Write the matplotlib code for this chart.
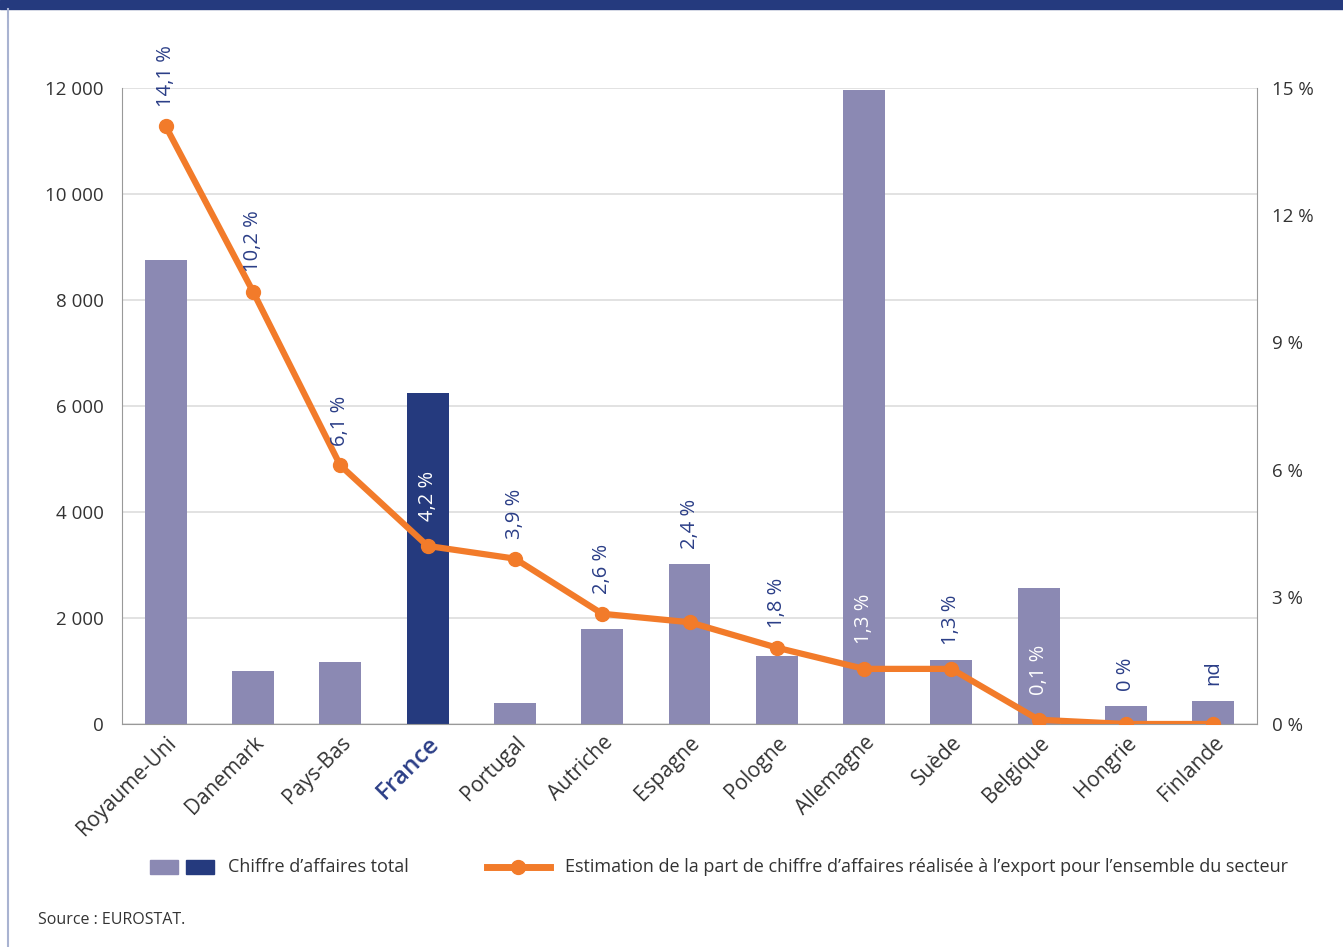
import numpy as np
import matplotlib.pyplot as plt
from matplotlib.patches import Rectangle
from matplotlib.lines import Line2D

plt.rcParams['font.family'] = ['Open Sans', 'DejaVu Sans']

# data
pays = ['Royaume-Uni', 'Danemark', 'Pays-Bas', 'France', 'Portugal', 'Autriche', 'Espagne',
        'Pologne', 'Allemagne', 'Suède', 'Belgique', 'Hongrie', 'Finlande']
chiffre_affaires = [8750, 1000, 1170, 6250, 400, 1800, 3020, 1290, 11960, 1210, 2570, 340, 440]
part_export = [14.1, 10.2, 6.1, 4.2, 3.9, 2.6, 2.4, 1.8, 1.3, 1.3, 0.1, 0.0, 0.0]
etiquettes = ['14,1 %', '10,2 %', '6,1 %', '4,2 %', '3,9 %', '2,6 %', '2,4 %', '1,8 %',
              '1,3 %', '1,3 %', '0,1 %', '0 %', 'nd']
dans_barre = [False, False, False, True, False, False, False, False, True, False, True, False, False]

clair = '#8B89B3'
fonce = '#253A7E'
orange = '#F27B2A'
texte_bleu = '#2B3E87'
gris = '#333333'

fig = plt.figure(figsize=(13.43, 9.47), dpi=100)
ax = fig.add_axes([122/1343, 1-724/947, 1135/1343, 636/947])
ax2 = ax.twinx()

x = np.arange(len(pays))
couleurs = [fonce if p == 'France' else clair for p in pays]
ax.bar(x, chiffre_affaires, width=0.48, color=couleurs, zorder=2)
ax.set_xlim(-0.5, len(pays) - 0.5)
ax.set_ylim(0, 12000)
ax.set_yticks(np.arange(0, 12001, 2000))
ax.set_yticklabels([f'{v:,}'.replace(',', ' ') for v in range(0, 12001, 2000)],
                   fontsize=13.5, color=gris)
ax.yaxis.grid(True, color='#DDDDDD', linewidth=1.2, zorder=0)
ax.set_axisbelow(True)
ax.tick_params(axis='y', length=0, pad=13)
ax.set_xticks(x)
ax.set_xticklabels(pays, rotation=45, ha='right', va='top', rotation_mode='anchor',
                   fontsize=15, color=gris)
for lab in ax.get_xticklabels():
    if lab.get_text() == 'France':
        lab.set_color(texte_bleu)
        lab.set_fontsize(17.5)
        lab.set_fontweight('semibold')
ax.tick_params(axis='x', length=0, pad=6)

for s in ['left', 'right', 'bottom']:
    ax.spines[s].set_color('#999999')
ax.spines['top'].set_visible(False)
for s in ax2.spines.values():
    s.set_visible(False)

ax2.plot(x, part_export, color=orange, linewidth=4.5, marker='o', markersize=10,
         solid_joinstyle='round', zorder=3)
ax2.set_ylim(0, 15)
ax2.set_yticks(np.arange(0, 16, 3))
ax2.set_yticklabels([f'{v} %' for v in range(0, 16, 3)], fontsize=13.5, color=gris)
ax2.tick_params(length=0, pad=11)

# etiquettes au-dessus du point ou de la barre
for xi, v, b, t, dedans in zip(x, part_export, chiffre_affaires, etiquettes, dans_barre):
    barre_pct = b / 12000 * 15
    if dedans:
        y, dy = v, 18
    elif barre_pct > v:
        y, dy = barre_pct, 11
    else:
        y, dy = v, 14
    ax2.annotate(t, (xi, y), xytext=(0, dy), textcoords='offset points',
                 rotation=90, ha='center', va='bottom', fontsize=14.5,
                 color='white' if dedans else texte_bleu, zorder=4)

# bandeau et bordure
fig.patches.append(Rectangle((0, 1-9/947), 1, 9/947, transform=fig.transFigure,
                             color=fonce, zorder=0))
fig.add_artist(Line2D([8/1343, 8/1343], [0, 1-9/947], color='#A9B3D1', linewidth=1.5))

# legende
ly = 1 - 867/947
fig.patches.append(Rectangle((150/1343, ly-7/947), 28/1343, 14/947, transform=fig.transFigure,
                             color=clair))
fig.patches.append(Rectangle((186/1343, ly-7/947), 28/1343, 14/947, transform=fig.transFigure,
                             color=fonce))
fig.text(228/1343, ly, "Chiffre d’affaires total", fontsize=13, color=gris, va='center')
fig.add_artist(Line2D([487/1343, 550/1343], [ly, ly], color=orange, linewidth=5,
                      transform=fig.transFigure))
fig.add_artist(Line2D([518/1343], [ly], color=orange, marker='o', markersize=10,
                      transform=fig.transFigure))
fig.text(565/1343, ly, "Estimation de la part de chiffre d’affaires réalisée à l’export pour l’ensemble du secteur",
         fontsize=13, color=gris, va='center')

fig.text(38/1343, 1-920/947, 'Source : EUROSTAT.', fontsize=11.5, color=gris, va='center')

fig.savefig('out.png', dpi=100)
